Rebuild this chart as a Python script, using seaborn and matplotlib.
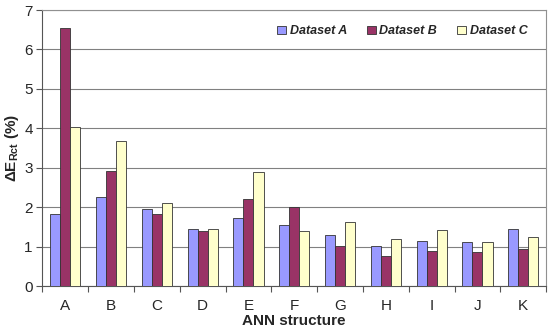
import numpy as np
import pandas as pd
import seaborn as sns
import matplotlib.pyplot as plt
from matplotlib.ticker import FixedLocator

structures = ["A", "B", "C", "D", "E", "F", "G", "H", "I", "J", "K"]
dataset_a = [1.82, 2.25, 1.97, 1.44, 1.72, 1.54, 1.30, 1.03, 1.15, 1.12, 1.44]
dataset_b = [6.55, 2.93, 1.82, 1.40, 2.21, 2.01, 1.03, 0.76, 0.90, 0.86, 0.95]
dataset_c = [4.04, 3.67, 2.10, 1.44, 2.89, 1.39, 1.62, 1.20, 1.42, 1.12, 1.26]

SERIES = ["Dataset A", "Dataset B", "Dataset C"]
PALETTE = {"Dataset A": "#9999FF", "Dataset B": "#993366", "Dataset C": "#FFFFCC"}

df = pd.DataFrame({
    "structure": structures * 3,
    "value": dataset_a + dataset_b + dataset_c,
    "dataset": [s for s in SERIES for _ in structures],
})

sns.set_theme(style="white")
plt.rcParams["font.family"] = ["Liberation Sans", "DejaVu Sans"]
plt.rcParams["mathtext.fontset"] = "custom"
plt.rcParams["mathtext.rm"] = "Liberation Sans"
plt.rcParams["mathtext.bf"] = "Liberation Sans:bold"

fig, ax = plt.subplots(figsize=(5.5, 3.34), dpi=100)
sns.barplot(data=df, x="structure", y="value", hue="dataset", hue_order=SERIES,
            order=structures, palette=PALETTE, width=0.66, gap=0,
            edgecolor="#333333", linewidth=0.6, saturation=1, ax=ax, zorder=3)

ax.set_ylim(0, 7)
ax.set_xlim(-0.5, len(structures) - 0.5)
ax.set_yticks(range(0, 8))
ax.yaxis.grid(True, color="#808080", linewidth=0.8, zorder=0)
ax.set_axisbelow(True)

# category boundary ticks like the spreadsheet original
ax.xaxis.set_minor_locator(FixedLocator(np.arange(-0.5, len(structures), 1.0)))
ax.tick_params(axis="x", which="major", length=0, labelsize=11, pad=9)
ax.tick_params(axis="x", which="minor", length=4, width=0.8, color="#555555", bottom=True)
ax.tick_params(axis="y", length=4, width=0.8, color="#555555", left=True, labelsize=11, pad=3)

for side in ["top", "right"]:
    ax.spines[side].set_color("#909090")
    ax.spines[side].set_linewidth(0.8)
for side in ["left", "bottom"]:
    ax.spines[side].set_color("#555555")
    ax.spines[side].set_linewidth(0.8)

ax.set_xlabel("ANN structure", fontsize=11, fontweight="bold", labelpad=1)
ax.set_ylabel(r"ΔE$_{\mathbf{Rct}}$ (%)", fontsize=11, fontweight="bold", labelpad=2)

handles, labels = ax.get_legend_handles_labels()
ax.legend(handles, labels, loc="upper right", ncol=3, frameon=False,
          prop={"weight": "bold", "style": "italic", "size": 9},
          handlelength=0.7, handleheight=0.7, handletextpad=0.3,
          columnspacing=1.6, bbox_to_anchor=(0.985, 0.985))

fig.subplots_adjust(left=0.077, right=0.993, top=0.97, bottom=0.143)
fig.savefig("out.png", dpi=100)
